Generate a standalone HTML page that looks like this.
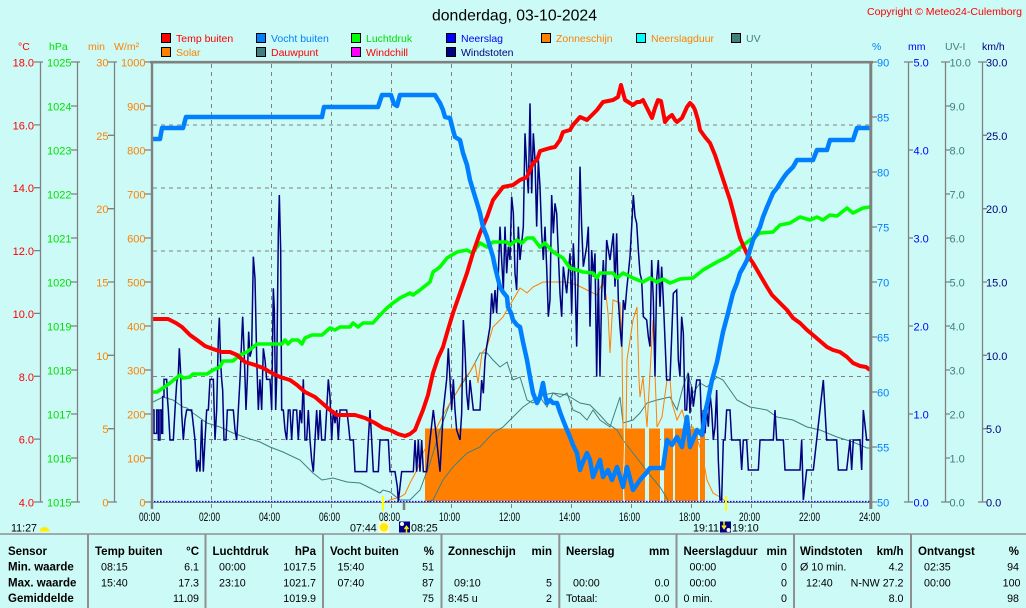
<!DOCTYPE html>
<html><head><meta charset="utf-8">
<style>
html,body{margin:0;padding:0;background:#ccfaf6;width:1026px;height:608px;overflow:hidden}
svg{display:block;font-family:"Liberation Sans",Arial,sans-serif}
.t{font-size:11px}
.b{font-size:11.5px;font-weight:bold;fill:#000}
.v{font-size:10.7px;fill:#000}
</style></head><body>
<svg width="1026" height="608" viewBox="0 0 1026 608">
<rect width="1026" height="608" fill="#ccfaf6"/>

<!-- title -->
<text x="432" y="20.5" font-size="15.8" fill="#000" textLength="165" lengthAdjust="spacingAndGlyphs">donderdag, 03-10-2024</text>
<text x="867" y="15" font-size="10.5" fill="#ff0000" textLength="155" lengthAdjust="spacingAndGlyphs">Copyright © Meteo24-Culemborg</text>

<!-- legend -->
<g stroke="#000" stroke-width="1">
<rect x="161.5" y="33.5" width="9" height="9" fill="#ff0000"/>
<rect x="256.5" y="33.5" width="9" height="9" fill="#0080ff"/>
<rect x="351.5" y="33.5" width="9" height="9" fill="#00ff00"/>
<rect x="446.5" y="33.5" width="9" height="9" fill="#0000ff"/>
<rect x="541.5" y="33.5" width="9" height="9" fill="#ff8000"/>
<rect x="636.5" y="33.5" width="9" height="9" fill="#00ffff"/>
<rect x="731.5" y="33.5" width="9" height="9" fill="#408080"/>
<rect x="161.5" y="47.5" width="9" height="9" fill="#ff8000"/>
<rect x="256.5" y="47.5" width="9" height="9" fill="#408080"/>
<rect x="351.5" y="47.5" width="9" height="9" fill="#ff00ff"/>
<rect x="446.5" y="47.5" width="9" height="9" fill="#000080"/>
</g>
<g font-size="10.5">
<text x="176" y="42" fill="#ff0000">Temp buiten</text>
<text x="271" y="42" fill="#0080ff">Vocht buiten</text>
<text x="366" y="42" fill="#00e000">Luchtdruk</text>
<text x="461" y="42" fill="#0000ff">Neerslag</text>
<text x="556" y="42" fill="#ff8000">Zonneschijn</text>
<text x="651" y="42" fill="#ff8000">Neerslagduur</text>
<text x="746" y="42" fill="#408080">UV</text>
<text x="176" y="56" fill="#ff8000">Solar</text>
<text x="271" y="56" fill="#ff0000">Dauwpunt</text>
<text x="366" y="56" fill="#ff0000">Windchill</text>
<text x="461" y="56" fill="#000080">Windstoten</text>
</g>

<!-- axis headers -->
<g font-size="10.5">
<text x="18" y="50" fill="#ff0000">°C</text>
<text x="49" y="50" fill="#00e000">hPa</text>
<text x="88" y="50" fill="#ff8000">min</text>
<text x="114" y="50" fill="#ff8000">W/m²</text>
<text x="872" y="50" fill="#0080ff">%</text>
<text x="908" y="50" fill="#0000ff">mm</text>
<text x="945" y="50" fill="#408080">UV-I</text>
<text x="982" y="50" fill="#000080">km/h</text>
</g>

<!-- grid -->
<g stroke="#808080" stroke-width="1" stroke-dasharray="4 4" fill="none">
<path d="M211.5,64V508 M271.5,64V508 M331.5,64V508 M391.5,64V508 M451.5,64V508 M511.5,64V508 M571.5,64V508 M631.5,64V508 M691.5,64V508 M751.5,64V508 M811.5,64V508"/>
<path d="M153,125H870 M153,188H870 M153,251H870 M153,313.5H870 M153,376.5H870 M153,439.5H870"/>
</g>

<!-- axes -->
<g stroke="#808080" stroke-width="1.3" fill="none">
<path d="M40.5,62V502 M77.5,62V502 M114.5,62V502 M908.5,62V502 M945.5,62V502 M982.5,62V502"/>
<path d="M34,62H43 M34,124.9H40.5 M34,187.7H40.5 M34,250.6H40.5 M34,313.4H40.5 M34,376.3H40.5 M34,439.1H40.5 M34,502H43"/>
<path d="M71,62H80 M71,106H77.5 M71,150H77.5 M71,194H77.5 M71,238H77.5 M71,282H77.5 M71,326H77.5 M71,370H77.5 M71,414H77.5 M71,458H77.5 M71,502H80"/>
<path d="M108,62H117 M108,135.3H114.5 M108,208.7H114.5 M108,282H114.5 M108,355.3H114.5 M108,428.7H114.5 M108,502H117"/>
<path d="M145,62H151 M145,106H151 M145,150H151 M145,194H151 M145,238H151 M145,282H151 M145,326H151 M145,370H151 M145,414H151 M145,458H151 M145,502H151"/>
<path d="M871,62H877 M871,117H877 M871,172H877 M871,227H877 M871,282H877 M871,337H877 M871,392H877 M871,447H877 M871,502H877"/>
<path d="M904,62H913 M908.5,150H913 M908.5,238H913 M908.5,326H913 M908.5,414H913 M904,502H913"/>
<path d="M941,62H950 M945.5,106H950 M945.5,150H950 M945.5,194H950 M945.5,238H950 M945.5,282H950 M945.5,326H950 M945.5,370H950 M945.5,414H950 M945.5,458H950 M941,502H950"/>
<path d="M978,62H987 M982.5,135.3H987 M982.5,208.7H987 M982.5,282H987 M982.5,355.3H987 M982.5,428.7H987 M978,502H987"/>
<path d="M151.5,502V508 M871.5,502V508"/>
</g>

<!-- tick labels -->
<g class="t" text-anchor="end" fill="#ff0000">
<text x="34" y="66.5">18.0</text><text x="34" y="129.4">16.0</text><text x="34" y="192.2">14.0</text><text x="34" y="255.1">12.0</text><text x="34" y="317.9">10.0</text><text x="34" y="380.8">8.0</text><text x="34" y="443.6">6.0</text><text x="34" y="506.5">4.0</text>
</g>
<g class="t" text-anchor="end" fill="#00e000">
<text x="71.5" y="66.5">1025</text><text x="71.5" y="110.5">1024</text><text x="71.5" y="154.5">1023</text><text x="71.5" y="198.5">1022</text><text x="71.5" y="242.5">1021</text><text x="71.5" y="286.5">1020</text><text x="71.5" y="330.5">1019</text><text x="71.5" y="374.5">1018</text><text x="71.5" y="418.5">1017</text><text x="71.5" y="462.5">1016</text><text x="71.5" y="506.5">1015</text>
</g>
<g class="t" text-anchor="end" fill="#ff8000">
<text x="108.5" y="66.5">30</text><text x="108.5" y="139.8">25</text><text x="108.5" y="213.2">20</text><text x="108.5" y="286.5">15</text><text x="108.5" y="359.8">10</text><text x="108.5" y="433.2">5</text><text x="108.5" y="506.5">0</text>
<text x="145.5" y="66.5">1000</text><text x="145.5" y="110.5">900</text><text x="145.5" y="154.5">800</text><text x="145.5" y="198.5">700</text><text x="145.5" y="242.5">600</text><text x="145.5" y="286.5">500</text><text x="145.5" y="330.5">400</text><text x="145.5" y="374.5">300</text><text x="145.5" y="418.5">200</text><text x="145.5" y="462.5">100</text><text x="145.5" y="506.5">0</text>
</g>
<g class="t" fill="#0080ff">
<text x="877" y="66.5">90</text><text x="877" y="121.5">85</text><text x="877" y="176.5">80</text><text x="877" y="231.5">75</text><text x="877" y="286.5">70</text><text x="877" y="341.5">65</text><text x="877" y="396.5">60</text><text x="877" y="451.5">55</text><text x="877" y="506.5">50</text>
</g>
<g class="t" fill="#0000ff">
<text x="913.5" y="66.5">5.0</text><text x="913.5" y="154.5">4.0</text><text x="913.5" y="242.5">3.0</text><text x="913.5" y="330.5">2.0</text><text x="913.5" y="418.5">1.0</text><text x="913.5" y="506.5">0.0</text>
</g>
<g class="t" fill="#408080">
<text x="949.5" y="66.5">10.0</text><text x="949.5" y="110.5">9.0</text><text x="949.5" y="154.5">8.0</text><text x="949.5" y="198.5">7.0</text><text x="949.5" y="242.5">6.0</text><text x="949.5" y="286.5">5.0</text><text x="949.5" y="330.5">4.0</text><text x="949.5" y="374.5">3.0</text><text x="949.5" y="418.5">2.0</text><text x="949.5" y="462.5">1.0</text><text x="949.5" y="506.5">0.0</text>
</g>
<g class="t" fill="#000080">
<text x="986" y="66.5">30.0</text><text x="986" y="139.8">25.0</text><text x="986" y="213.2">20.0</text><text x="986" y="286.5">15.0</text><text x="986" y="359.8">10.0</text><text x="986" y="433.2">5.0</text><text x="986" y="506.5">0.0</text>
</g>

<!-- x axis labels -->
<g font-size="11.5" fill="#000" text-anchor="middle">
<text x="149.5" y="521" textLength="21" lengthAdjust="spacingAndGlyphs">00:00</text>
<text x="209.5" y="521" textLength="21" lengthAdjust="spacingAndGlyphs">02:00</text>
<text x="269.5" y="521" textLength="21" lengthAdjust="spacingAndGlyphs">04:00</text>
<text x="329.5" y="521" textLength="21" lengthAdjust="spacingAndGlyphs">06:00</text>
<text x="389.5" y="521" textLength="21" lengthAdjust="spacingAndGlyphs">08:00</text>
<text x="449.5" y="521" textLength="21" lengthAdjust="spacingAndGlyphs">10:00</text>
<text x="509.5" y="521" textLength="21" lengthAdjust="spacingAndGlyphs">12:00</text>
<text x="569.5" y="521" textLength="21" lengthAdjust="spacingAndGlyphs">14:00</text>
<text x="629.5" y="521" textLength="21" lengthAdjust="spacingAndGlyphs">16:00</text>
<text x="689.5" y="521" textLength="21" lengthAdjust="spacingAndGlyphs">18:00</text>
<text x="749.5" y="521" textLength="21" lengthAdjust="spacingAndGlyphs">20:00</text>
<text x="809.5" y="521" textLength="21" lengthAdjust="spacingAndGlyphs">22:00</text>
<text x="869.5" y="521" textLength="21" lengthAdjust="spacingAndGlyphs">24:00</text>
</g>

<!-- sunshine bars -->
<g fill="#ff8000">
<rect x="425" y="428.5" width="198" height="72.5"/>
<rect x="625" y="428.5" width="20" height="72.5"/>
<rect x="649" y="428.5" width="11" height="72.5"/>
<rect x="664" y="428.5" width="9" height="72.5"/>
<rect x="675" y="428.5" width="23" height="72.5"/>
<rect x="700" y="428.5" width="5" height="72.5"/>
</g>

<!-- dewpoint -->
<path fill="none" stroke="#408080" stroke-width="1" d="M151,403 L163,397 L173,400 L183,407 L187,408 L193,413 L207,423 L220,427 L233,433 L247,438 L260,442 L270,447 L283,452 L300,460 L313,473 L322,480 L333,478 L347,482 L360,483 L370,488 L380,493 L383,490 L390,492 L400,500 L410,500 L420,490 L430,463 L440,430 L450,403 L460,387 L470,372 L478,357 L480,353 L487,353 L493,360 L500,367 L507,362 L513,380 L520,377 L527,400 L533,403 L540,397 L547,407 L553,393 L560,397 L567,393 L573,410 L580,413 L587,420 L593,410 L600,420 L610,427 L620,397 L623,423 L633,420 L640,413 L647,403 L657,400 L670,397 L677,410 L683,387 L688,373 L693,393 L700,383 L707,387 L717,377 L723,380 L737,400 L750,407 L767,410 L777,417 L793,420 L807,427 L820,430 L837,437 L853,442 L867,448 L870,448"/>
<!-- UV -->
<path fill="none" stroke="#408080" stroke-width="1" d="M428,502 L433,500 L443,480 L453,467 L467,453 L480,447 L493,433 L503,427 L513,417 L523,407 L533,400 L543,395 L553,393 L567,395 L580,403 L590,405 L600,415 L607,423 L617,430 L623,440 L633,453 L640,462 L650,475 L660,487 L668,500"/>
<!-- solar -->
<path fill="none" stroke="#ff8000" stroke-width="1" d="M386,502 L390,500 L400,497 L405,494 L410,483 L417,470 L423,453 L430,440 L437,427 L443,415 L450,403 L457,392 L463,380 L470,372 L475,363 L478,383 L482,353 L487,347 L493,327 L498,322 L503,317 L508,308 L513,300 L520,288 L523,290 L527,293 L533,287 L543,282 L553,282 L567,282 L577,285 L587,290 L597,295 L603,282 L606,295 L608,313 L610,353 L613,300 L620,303 L622,347 L623,427 L625,500 L627,360 L633,320 L637,307 L639,380 L640,397 L643,377 L647,427 L653,320 L657,427 L662,417 L667,380 L670,380 L672,403 L677,420 L682,410 L687,427 L693,427 L702,453 L707,480 L713,493 L720,497 L725,501"/>

<!-- wind gusts -->
<g fill="none" stroke="#000080" stroke-width="4.5" stroke-linejoin="miter">
<path transform="translate(0,130) scale(0.33333)" d="M455,840 L462,840 L462,910 L470,910 L470,840 L475,840 L475,930 L480,930 L480,840 L485,840 L485,910 L488,910 L488,800 L492,800 L492,748 L500,748 L502,800 L505,840 L510,930 L520,930 L525,840 L530,760 L535,730 L538,655 L542,730 L545,850 L550,930 L555,870 L560,840 L575,840 L585,930 L590,1025 L595,990 L600,1025 L605,870 L610,1025 L615,930 L620,840 L625,840 L630,748 L640,748 L645,930 L650,840 L655,625 L658,563 L662,700 L665,748 L668,780 L672,930 L678,930 L682,840 L700,840 L705,900 L710,930 L715,840 L720,748 L728,560 L733,680 L738,840 L742,748 L746,605 L750,680 L755,660 L760,380 L765,445 L770,680 L775,840 L780,748 L785,840 L790,655 L795,690 L800,748 L810,748 L815,840 L820,475 L823,540 L827,840 L830,748 L835,310 L838,195 L842,360 L845,840 L850,840 L855,900 L860,930 L865,840 L870,840 L875,930 L880,840 L890,840 L895,930 L900,840 L905,880 L910,748 L915,930 L920,930 L925,840 L930,930 L935,990 L940,1025 L945,930 L950,840 L955,930 L960,840 L965,930 L975,930 L980,840 L985,748 L990,800 L995,930 L1000,840 L1005,880 L1010,840 L1015,930 L1020,840 L1040,840 L1045,880 L1050,930 L1060,930 L1065,1025 L1100,1025 L1105,930 L1110,840 L1115,930 L1120,1025 L1135,1025 L1140,930 L1165,930 L1170,1025 L1185,1025 L1192,1070 L1195,1115 L1200,1070 L1205,1025 L1240,1025 L1245,930 L1250,1025 L1255,930 L1260,1025 L1265,930 L1270,1025 L1280,1025 L1290,930 L1300,840 L1310,930 L1320,1025 L1330,840 L1340,748 L1345,655 L1350,748 L1355,840 L1360,748 L1365,840 L1370,900 L1380,930"/>
<path transform="translate(380,60) scale(0.33333)" d="M240,1140 L245,1060 L250,780 L255,870 L260,1000 L265,1050 L270,960 L280,1050 L300,1050 L305,960 L310,1000 L315,900 L320,860 L330,800 L335,700 L340,760 L345,690 L350,760 L355,640 L360,500 L365,600 L370,690 L375,500 L380,640 L385,560 L390,600 L395,410 L400,460 L405,640 L410,690 L415,500 L420,600 L430,500 L435,220 L440,320 L445,400 L450,130 L455,400 L460,220 L465,300 L470,500 L475,300 L480,380 L485,520 L490,600 L495,500 L500,620 L505,770 L510,720 L515,405 L520,520 L525,430 L530,460 L535,580 L540,700 L545,770 L550,620 L560,700 L570,580 L575,760 L580,550 L585,650 L590,860 L595,620 L600,320 L605,500 L610,620 L620,560 L625,500 L630,800 L635,570 L640,650 L645,580 L650,950 L655,650 L660,950 L665,700 L670,600 L675,720 L680,540 L690,600 L700,520 L705,680 L710,520 L715,720 L720,800 L725,860 L730,720"/>
<path transform="translate(620,60) scale(0.33333)" d="M10,720 L15,750 L20,690 L30,590 L35,500 L40,405 L45,470 L50,490 L55,570 L60,640 L65,660 L70,770 L80,780 L85,830 L90,860 L95,600 L100,720 L105,950 L110,660 L115,600 L120,740 L125,620 L130,720 L140,960 L150,960 L160,700 L170,690 L175,900 L180,950 L185,770 L190,820 L195,1050 L200,1050 L205,940 L210,1060 L215,980 L220,1040 L230,960 L240,960 L245,1100 L250,1050 L255,1120 L260,1050 L265,1100 L270,1000 L275,1050 L280,1140 L285,1100 L290,990 L295,1200 L300,1320 L305,1320 L310,1140 L315,1140 L320,1050 L330,1050 L335,1140 L360,1140 L365,1230 L370,1140 L380,1140 L385,1230 L415,1230 L420,1140 L460,1140 L465,1050 L470,1140 L490,1140 L495,1230 L540,1230 L545,1140 L550,1320 L560,1230 L580,1230 L590,1140 L600,1050 L610,960 L615,1050 L620,1140 L650,1140 L655,1230 L680,1230 L690,1140 L695,1230 L700,1140 L720,1140 L725,1230 L730,1050 L740,1140 L750,1140"/>
</g>

<!-- pressure -->
<path fill="none" stroke="#00ff00" stroke-width="3.6" stroke-linejoin="round" d="M151,392 L157,392 L163,388 L170,383 L180,375 L183,378 L190,377 L193,374 L207,374 L213,370 L220,367 L223,361 L233,361 L240,355 L247,352 L257,344 L282,344 L285,340 L288,344 L292,340 L298,340 L302,344 L305,338 L312,335 L322,335 L330,328 L335,330 L340,327 L350,327 L353,323 L358,327 L363,323 L373,323 L380,315 L387,308 L393,303 L400,298 L410,293 L413,295 L420,290 L430,282 L433,272 L440,267 L447,258 L457,252 L467,250 L472,253 L480,243 L487,247 L493,242 L507,242 L510,245 L517,240 L522,243 L527,238 L533,238 L540,247 L545,243 L553,252 L563,258 L570,268 L577,270 L583,272 L593,273 L597,278 L600,273 L613,273 L617,278 L623,273 L633,278 L643,282 L650,278 L657,282 L663,279 L670,283 L680,279 L693,278 L703,270 L717,262 L727,257 L737,250 L750,240 L760,233 L773,232 L780,225 L790,223 L800,217 L810,220 L817,217 L823,220 L830,215 L837,216 L847,208 L853,213 L863,208 L870,207"/>

<!-- temperature -->
<path fill="none" stroke="#ff0000" stroke-width="4" stroke-linejoin="round" d="M151,319 L168,319 L176,323 L182,327 L190,335 L197,340 L205,346 L213,349 L222,352 L230,352 L237,355 L245,362 L255,365 L263,368 L270,372 L280,377 L290,380 L297,385 L305,392 L315,397 L322,403 L330,410 L337,415 L355,415 L365,418 L375,423 L383,428 L390,430 L398,434 L405,436 L410,434 L415,430 L423,410 L428,395 L433,373 L438,358 L443,347 L447,333 L453,313 L460,293 L467,273 L473,253 L480,233 L487,217 L493,200 L503,187 L513,185 L520,180 L527,177 L533,163 L537,160 L540,151 L550,148 L555,147 L560,140 L563,132 L570,130 L573,125 L580,117 L587,120 L597,110 L603,102 L613,100 L618,97 L621,85 L625,100 L633,105 L637,102 L640,102 L643,100 L647,108 L652,118 L655,108 L658,100 L661,101 L665,122 L668,118 L672,115 L675,120 L677,122 L682,118 L687,107 L690,103 L693,106 L695,110 L698,120 L700,130 L705,137 L710,143 L715,155 L720,170 L725,185 L730,200 L734,215 L737,227 L740,238 L743,245 L748,256 L753,263 L760,275 L767,287 L772,295 L777,300 L782,305 L787,310 L793,318 L800,323 L807,330 L813,335 L820,341 L827,347 L833,350 L840,352 L847,357 L853,363 L860,366 L866,367 L870,370"/>

<!-- humidity -->
<path fill="none" stroke="#0080ff" stroke-width="4.5" stroke-linejoin="round" d="M151,139 L160,139 L162,128 L183,128 L186,117 L322,117 L324,107 L378,107 L382,95 L391,95 L394,104 L397,106 L400,95 L435,95 L438,100 L440,103 L443,110 L445,117 L450,118 L453,130 L455,137 L460,140 L463,153 L467,165 L470,180 L473,190 L477,203 L480,213 L483,227 L487,237 L490,247 L493,257 L495,267 L500,287 L503,292 L507,297 L508,307 L511,313 L513,320 L517,325 L520,327 L523,342 L527,360 L530,377 L533,393 L537,403 L540,397 L543,383 L545,395 L547,403 L550,400 L553,403 L557,403 L560,412 L563,420 L567,430 L570,437 L573,445 L577,453 L580,470 L583,462 L587,453 L590,460 L593,477 L600,460 L603,477 L608,470 L612,480 L617,467 L623,487 L627,467 L633,490 L640,480 L647,472 L650,468 L663,468 L667,440 L672,445 L677,437 L682,447 L687,417 L690,447 L697,430 L702,435 L705,413 L708,400 L712,380 L717,362 L720,347 L723,332 L727,317 L730,305 L733,293 L737,283 L740,273 L744,266 L747,260 L750,250 L753,240 L757,233 L760,227 L763,217 L767,207 L770,200 L773,193 L777,188 L780,183 L784,177 L787,173 L790,170 L793,167 L797,160 L813,160 L817,150 L827,150 L830,140 L853,140 L857,128 L870,128"/>

<!-- zero lines -->
<path d="M151,502.5H871" stroke="#808080" stroke-width="1"/>
<path d="M151,501.5H871" stroke="#0000ff" stroke-width="1.2" stroke-dasharray="1.5 1.5"/>

<!-- frame -->
<g stroke="#808080" fill="none">
<path d="M150,62.2H873" stroke-width="2.6"/>
<path d="M152,61V509" stroke-width="2.4"/>
<path d="M870.8,61V509" stroke-width="3"/>
</g>

<!-- sun/moon markers -->
<path d="M383,496V511" stroke="#ffff00" stroke-width="2"/>
<path d="M404,502V510" stroke="#808080" stroke-width="2.5"/>
<path d="M726,496V511" stroke="#ffff00" stroke-width="2"/>

<g class="v">
<text x="11" y="531.5">11:27</text>
<text x="350" y="531.5">07:44</text>
<text x="411" y="531.5">08:25</text>
<text x="693" y="531.5">19:11</text>
<text x="732" y="531.5">19:10</text>
</g>
<path d="M39.5,531.5 A5,4.5 0 0 1 49.5,531.5 Z" fill="#ffee00"/>
<rect x="378.5" y="521.5" width="11" height="11.5" fill="#fbfbd8"/>
<circle cx="384" cy="527.3" r="4.3" fill="#ffee00"/>
<rect x="399" y="521.5" width="11" height="11" fill="#000080"/>
<circle cx="402" cy="524" r="2" fill="#ffffff"/>
<path d="M406.5,533V527 M404.5,529L406.5,526.5L408.5,529" stroke="#ffee00" stroke-width="1.5" fill="none"/>
<rect x="720" y="521.5" width="11" height="11" fill="#000080"/>
<circle cx="728.5" cy="530" r="2" fill="#ffffff"/>
<path d="M724,521.5V528 M722,525.5L724,528.5L726,525.5" stroke="#ffee00" stroke-width="1.5" fill="none"/>

<!-- table -->
<path d="M0,534H1026" stroke="#909090" stroke-width="1.5"/>
<g stroke="#909090" stroke-width="2">
<path d="M88,534V608 M205.5,534V608 M323,534V608 M441.5,534V608 M559.3,534V608 M676.5,534V608 M794,534V608 M911,534V608"/>
</g>
<g class="b">
<text x="8" y="555">Sensor</text>
<text x="8" y="570.5">Min. waarde</text>
<text x="8" y="586.3">Max. waarde</text>
<text x="8" y="602">Gemiddelde</text>
<text x="95" y="555">Temp buiten</text><text x="199" y="555" text-anchor="end">°C</text>
<text x="212.5" y="555">Luchtdruk</text><text x="316" y="555" text-anchor="end">hPa</text>
<text x="330" y="555">Vocht buiten</text><text x="434" y="555" text-anchor="end">%</text>
<text x="448" y="555">Zonneschijn</text><text x="552" y="555" text-anchor="end">min</text>
<text x="566" y="555">Neerslag</text><text x="669.5" y="555" text-anchor="end">mm</text>
<text x="683.5" y="555">Neerslagduur</text><text x="787" y="555" text-anchor="end">min</text>
<text x="800" y="555">Windstoten</text><text x="903.5" y="555" text-anchor="end">km/h</text>
<text x="918" y="555">Ontvangst</text><text x="1019" y="555" text-anchor="end">%</text>
</g>
<g class="v">
<text x="101" y="570.5">08:15</text><text x="199" y="570.5" text-anchor="end">6.1</text>
<text x="219" y="570.5">00:00</text><text x="316" y="570.5" text-anchor="end">1017.5</text>
<text x="337.5" y="570.5">15:40</text><text x="434" y="570.5" text-anchor="end">51</text>
<text x="689.5" y="570.5">00:00</text><text x="787" y="570.5" text-anchor="end">0</text>
<text x="800" y="570.5">Ø 10 min.</text><text x="903.5" y="570.5" text-anchor="end">4.2</text>
<text x="924" y="570.5">02:35</text><text x="1019" y="570.5" text-anchor="end">94</text>

<text x="101" y="586.3">15:40</text><text x="199" y="586.3" text-anchor="end">17.3</text>
<text x="219" y="586.3">23:10</text><text x="316" y="586.3" text-anchor="end">1021.7</text>
<text x="337.5" y="586.3">07:40</text><text x="434" y="586.3" text-anchor="end">87</text>
<text x="454" y="586.3">09:10</text><text x="552" y="586.3" text-anchor="end">5</text>
<text x="573" y="586.3">00:00</text><text x="669.5" y="586.3" text-anchor="end">0.0</text>
<text x="689.5" y="586.3">00:00</text><text x="787" y="586.3" text-anchor="end">0</text>
<text x="806" y="586.3">12:40</text><text x="903.5" y="586.3" text-anchor="end">N-NW 27.2</text>
<text x="924" y="586.3">00:00</text><text x="1020.5" y="586.3" text-anchor="end">100</text>

<text x="199" y="602" text-anchor="end">11.09</text>
<text x="316" y="602" text-anchor="end">1019.9</text>
<text x="434" y="602" text-anchor="end">75</text>
<text x="448" y="602">8:45 u</text><text x="552" y="602" text-anchor="end">2</text>
<text x="566" y="602">Totaal:</text><text x="669.5" y="602" text-anchor="end">0.0</text>
<text x="683.5" y="602">0 min.</text><text x="787" y="602" text-anchor="end">0</text>
<text x="903.5" y="602" text-anchor="end">8.0</text>
<text x="1019" y="602" text-anchor="end">98</text>
</g>
</svg>
</body></html>
